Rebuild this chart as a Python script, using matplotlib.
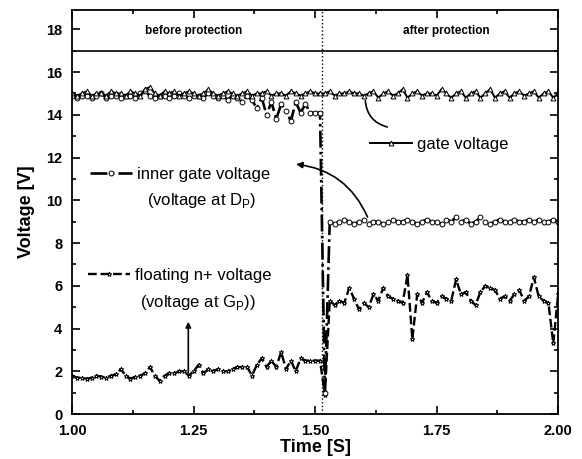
import matplotlib
matplotlib.use('Agg')
import matplotlib.pyplot as plt
from matplotlib.ticker import MultipleLocator
import numpy as np

plt.rcParams['font.family'] = ['Liberation Sans', 'DejaVu Sans']

# time axis, 10 ms steps
time_s = np.linspace(1.0, 2.0, 101)

gate_v = [15.0, 14.9, 15.0, 15.1, 14.9, 15.0, 15.0, 14.9, 15.1, 15.0,
          15.0, 14.9, 15.1, 15.0, 14.9, 15.2, 15.3, 15.0, 14.9, 15.1,
          15.0, 15.1, 14.9, 15.0, 15.1, 15.0, 14.9, 15.0, 15.2, 15.0,
          14.9, 15.0, 15.1, 15.0, 14.9, 15.0, 15.1, 14.9, 15.0, 15.0,
          15.1, 14.9, 15.0, 15.0, 14.9, 15.1, 15.0, 14.9, 15.0, 15.1,
          15.0, 15.0, 15.0, 15.1, 14.9, 15.0, 15.0, 15.1, 15.0, 15.0,
          14.9, 15.0, 15.1, 14.8, 15.0, 15.1, 14.9, 15.0, 15.2, 14.8,
          15.0, 15.1, 14.9, 15.0, 15.0, 14.9, 15.2, 15.0, 14.8, 15.0,
          15.1, 14.8, 15.0, 15.1, 14.8, 15.0, 15.2, 14.8, 15.0, 15.1,
          14.8, 15.0, 15.1, 14.9, 15.0, 15.1, 14.8, 15.0, 15.1, 14.8,
          15.0]

inner_gate_v = [14.9, 14.8, 14.9, 14.9, 14.8, 14.9, 15.0, 14.8, 14.9, 14.9,
                14.8, 14.9, 14.9, 14.8, 15.0, 15.1, 14.9, 14.8, 14.9, 14.9,
                14.8, 14.9, 15.0, 14.9, 14.8, 14.9, 14.9, 14.8, 15.0, 14.9,
                14.8, 14.9, 14.7, 14.9, 14.8, 14.6, 14.9, 14.7, 14.3, 14.8,
                14.0, 14.6, 13.8, 14.5, 14.2, 13.7, 14.6, 14.1, 14.5, 14.1,
                14.1, 14.1, 1.0, 9.0, 8.9, 9.0, 9.1, 9.0, 8.9, 9.0,
                9.1, 8.9, 9.0, 9.0, 8.9, 9.0, 9.1, 9.0, 9.0, 9.1,
                9.0, 8.9, 9.0, 9.1, 9.0, 9.0, 8.9, 9.1, 9.0, 9.2,
                9.0, 9.1, 8.9, 9.0, 9.2, 9.0, 8.9, 9.0, 9.1, 9.0,
                9.0, 9.1, 9.0, 9.0, 9.1, 9.0, 9.1, 9.0, 9.0, 9.1,
                9.0]

floating_v = [1.8, 1.7, 1.7, 1.65, 1.7, 1.8, 1.75, 1.7, 1.8, 1.85,
              2.1, 1.8, 1.65, 1.75, 1.8, 1.9, 2.2, 1.8, 1.55, 1.8,
              1.9, 1.9, 2.0, 2.0, 1.8, 2.0, 2.3, 1.9, 2.1, 2.0,
              2.1, 2.0, 2.0, 2.1, 2.2, 2.2, 2.2, 1.8, 2.3, 2.6,
              2.2, 2.5, 2.2, 2.9, 2.1, 2.5, 2.0, 2.6, 2.5, 2.5,
              2.5, 2.5, 0.9, 5.3, 5.1, 5.3, 5.2, 5.9, 5.4, 4.9,
              5.2, 5.0, 5.6, 5.3, 5.9, 5.5, 5.4, 5.3, 5.2, 6.5,
              3.5, 5.6, 5.2, 5.7, 5.3, 5.2, 5.5, 5.4, 5.3, 6.3,
              5.6, 5.7, 5.3, 5.1, 5.7, 6.0, 5.9, 5.8, 5.4, 5.5,
              5.3, 5.6, 5.8, 5.3, 5.5, 6.4, 5.5, 5.3, 5.2, 3.3,
              5.6]

protection_time = 1.515
divider_v = 17.0

fig = plt.figure(figsize=(5.82, 4.59), dpi=100)
ax = fig.add_axes([0.124, 0.098, 0.835, 0.880])

mk = dict(markersize=3.5, markerfacecolor='white', markeredgecolor='black',
          markeredgewidth=0.7, color='black')
fl, = ax.plot(time_s, floating_v, linestyle='--', marker='*', lw=1.7, **mk)
ig, = ax.plot(time_s, inner_gate_v, linestyle='-.', marker='o', lw=1.9, **mk)
gv, = ax.plot(time_s, gate_v, linestyle='-', marker='^', lw=1.4, **mk)

ax.axhline(divider_v, color='black', lw=1.2)
ax.axvline(protection_time, color='black', lw=1.0, linestyle=':')

ax.text(1.25, 17.9, 'before protection', ha='center', va='center',
        fontsize=8.5, fontweight='bold')
ax.text(1.77, 17.9, 'after protection', ha='center', va='center',
        fontsize=8.5, fontweight='bold')

leg_kw = dict(frameon=False, borderpad=0, borderaxespad=0, handlelength=2.5,
              handletextpad=0.3, fontsize=12, loc='center left',
              bbox_transform=ax.transData)
l1 = ax.legend([gv], ['gate voltage'], bbox_to_anchor=(1.613, 12.6), **leg_kw)
ax.add_artist(l1)
l2 = ax.legend([ig], ['inner gate voltage'], bbox_to_anchor=(1.037, 11.2), **leg_kw)
ax.add_artist(l2)
l3 = ax.legend([fl], ['floating n+ voltage'], bbox_to_anchor=(1.033, 6.5), **leg_kw)

ax.text(1.267, 10.0, '(voltage at D$_\\mathregular{P}$)', ha='center', va='center', fontsize=12)
ax.text(1.259, 5.2, '(voltage at G$_\\mathregular{P}$))', ha='center', va='center', fontsize=12)

ax.annotate('', xy=(1.654, 13.4), xytext=(1.603, 14.8),
            arrowprops=dict(arrowstyle='-', color='black', lw=1.2,
                            connectionstyle='arc3,rad=0.4'))
ax.annotate('', xy=(1.455, 11.7), xytext=(1.61, 9.1),
            arrowprops=dict(arrowstyle='-|>', color='black', lw=1.2,
                            mutation_scale=9, connectionstyle='arc3,rad=0.3'))
ax.annotate('', xy=(1.239, 4.45), xytext=(1.239, 1.8),
            arrowprops=dict(arrowstyle='-|>', color='black', lw=1.2,
                            mutation_scale=8))

ax.set_xlim(1.0, 2.0)
ax.set_ylim(0, 18.9)
ax.xaxis.set_major_locator(MultipleLocator(0.25))
ax.xaxis.set_minor_locator(MultipleLocator(0.125))
ax.yaxis.set_major_locator(MultipleLocator(2))
ax.yaxis.set_minor_locator(MultipleLocator(1))
ax.xaxis.set_major_formatter(matplotlib.ticker.FormatStrFormatter('%.2f'))
ax.tick_params(which='both', direction='in', top=True, right=True, width=1.2)
ax.tick_params(which='major', length=6, labelsize=10.5)
ax.tick_params(axis='x', which='major', pad=7)
ax.tick_params(axis='y', which='major', pad=7)
ax.tick_params(which='minor', length=3)
for lab in ax.get_xticklabels() + ax.get_yticklabels():
    lab.set_fontweight('bold')
for s in ax.spines.values():
    s.set_linewidth(1.3)

ax.set_xlabel('Time [S]', fontsize=13, fontweight='bold', labelpad=1)
ax.set_ylabel('Voltage [V]', fontsize=13, fontweight='bold', labelpad=8)

fig.savefig('out.png', dpi=100)
